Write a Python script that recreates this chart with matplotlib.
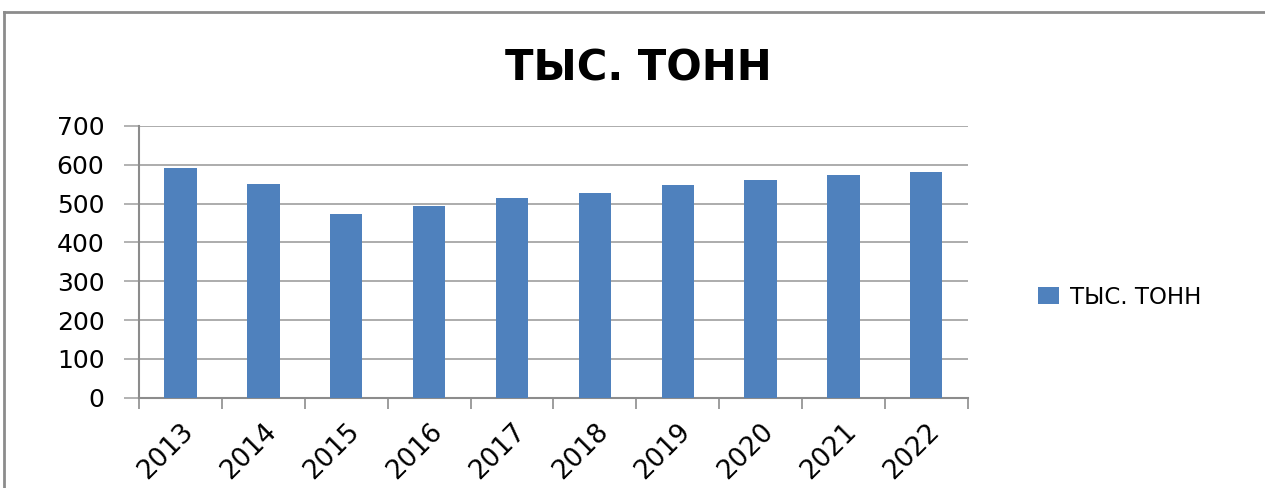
import matplotlib
matplotlib.use("Agg")
import matplotlib.pyplot as plt
from matplotlib.lines import Line2D

years = ["2013", "2014", "2015", "2016", "2017", "2018", "2019", "2020", "2021", "2022"]
values = [591, 551, 473, 495, 515, 528, 547, 560, 574, 581]
series_name = "ТЫС. ТОНН"
title = "ТЫС. ТОНН"

plt.rcParams['font.family'] = ['DejaVu Sans']

fig = plt.figure(figsize=(12.65, 4.88), dpi=100)
ax = fig.add_axes([0.110, 0.185, 0.655, 0.557])

x = list(range(len(years)))
ax.bar(x, values, width=0.39, color="#4F81BD", label=series_name, zorder=3)

ax.set_xlim(-0.5, len(years) - 0.5)
ax.set_ylim(0, 700)
ax.set_yticks(range(0, 701, 100))
ax.grid(axis="y", color="#A6A6A6", linewidth=1.3, zorder=0)
ax.set_axisbelow(True)

ax.set_xticks(x)
ax.set_xticklabels(years, rotation=45, ha="right", rotation_mode="anchor", fontsize=19)
ax.set_xticks([i - 0.5 for i in range(len(years) + 1)], minor=True)
ax.tick_params(axis="x", which="major", length=0, pad=15)
ax.tick_params(axis="x", which="minor", length=8, width=1.2, color="#8C8C8C")
ax.tick_params(axis="y", length=11, width=1.2, color="#A6A6A6", labelsize=18, pad=14)

for side in ["top", "right"]:
    ax.spines[side].set_visible(False)
for side in ["left", "bottom"]:
    ax.spines[side].set_color("#8C8C8C")
    ax.spines[side].set_linewidth(1.5)

fig.text(0.505, 0.86, title, ha="center", va="center", fontsize=30, fontweight="bold")

ax.legend(loc="center left", bbox_to_anchor=(1.06, 0.37), frameon=False,
          fontsize=16.5, handlelength=0.9, handleheight=0.8, handletextpad=0.5)

# outer chart frame (top and left edges visible)
fig.add_artist(Line2D([4 / 1265, 4 / 1265], [0, 1 - 12 / 488], transform=fig.transFigure,
                      color="#8C8C8C", linewidth=2))
fig.add_artist(Line2D([4 / 1265, 1], [1 - 12 / 488, 1 - 12 / 488], transform=fig.transFigure,
                      color="#8C8C8C", linewidth=2))

fig.savefig("out.png", dpi=100)
